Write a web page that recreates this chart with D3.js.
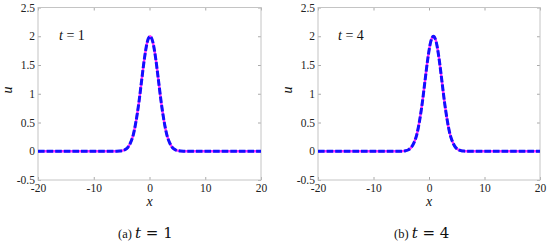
<!DOCTYPE html>
<html lang="en">
<head>
<meta charset="UTF-8">
<title>Soliton profiles</title>
<style>
body { margin: 0; background: #fff; }
svg { display: block; }
.tick text { font-family: "Liberation Serif", "Times New Roman", serif; font-size: 11.5px; fill: #222; }
.frame { fill: none; stroke: #c4c4c4; stroke-width: 1px; }
.exact { fill: none; stroke: #ff2cff; stroke-width: 2.4px; }
.numeric { fill: none; stroke: #1010ff; stroke-width: 3px; stroke-dasharray: 6.6 2; }
.lbl { font-family: "Liberation Serif", "Times New Roman", serif; font-style: italic; font-size: 14px; fill: #111; }
.cap { font-family: "Liberation Serif", "Times New Roman", serif; font-size: 12.5px; fill: #111; }
.capm { font-family: "DejaVu Serif", serif; font-size: 15px; fill: #111; }
</style>
</head>
<body>
<script src="https://cdnjs.cloudflare.com/ajax/libs/d3/7.8.5/d3.min.js"></script>
<script>
// values
var xTicks = [-20, -10, 0, 10, 20];
var yTicks = [-0.5, 0, 0.5, 1, 1.5, 2, 2.5];

var xT1 = [-20, -5.9, -5.4, -4.9, -4.4, -3.9, -3.4, -2.9, -2.4, -1.9, -1.4, -0.9, -0.4, 0.1,
           0.6, 1.1, 1.6, 2.1, 2.6, 3.1, 3.6, 4.1, 4.6, 5.1, 5.6, 6.1, 20];
var xT4 = [-20, -5.2, -4.7, -4.2, -3.7, -3.2, -2.7, -2.2, -1.7, -1.2, -0.7, -0.2, 0.3, 0.8,
           1.3, 1.8, 2.3, 2.8, 3.3, 3.8, 4.3, 4.8, 5.3, 5.8, 6.3, 6.8, 20];
var uT1 = [0, 0.001, 0.003, 0.010, 0.027, 0.066, 0.15, 0.29, 0.53, 0.85, 1.24, 1.62, 1.90, 2.00,
           1.90, 1.62, 1.24, 0.85, 0.53, 0.29, 0.15, 0.066, 0.027, 0.010, 0.003, 0.001, 0];
var uT4 = [0, 0.001, 0.003, 0.010, 0.027, 0.066, 0.15, 0.29, 0.53, 0.85, 1.24, 1.62, 1.90, 2.00,
           1.90, 1.62, 1.24, 0.85, 0.53, 0.29, 0.15, 0.066, 0.027, 0.010, 0.003, 0.001, 0];

var panels = [
  { left: 38, right: 261, xs: xT1, us: uT1, tval: "1", tag: "(a)", tx: 59, capx: 118, ulx: 12 },
  { left: 318, right: 540, xs: xT4, us: uT4, tval: "4", tag: "(b)", tx: 338, capx: 394, ulx: 292 }
];
var plotTop = 7.5, plotBottom = 180;
var serif = '"Liberation Serif", "Times New Roman", serif';

var svg = d3.select("body").append("svg")
  .attr("width", 550).attr("height", 245);

panels.forEach(function (p) {
  var x = d3.scaleLinear().domain([-20, 20]).range([p.left, p.right]);
  var y = d3.scaleLinear().domain([-0.5, 2.5]).range([plotBottom, plotTop]);
  var g = svg.append("g");

  // inward ticks on all four sides
  g.append("g").attr("transform", "translate(0," + plotBottom + ")")
    .call(d3.axisBottom(x).tickValues(xTicks).tickSize(-3).tickPadding(4).tickFormat(String));
  g.append("g").attr("transform", "translate(0," + plotTop + ")")
    .call(d3.axisTop(x).tickValues(xTicks).tickSize(-3).tickFormat(""));
  g.append("g").attr("transform", "translate(" + p.left + ",0)")
    .call(d3.axisLeft(y).tickValues(yTicks).tickSize(-3).tickPadding(3).tickFormat(String));
  g.append("g").attr("transform", "translate(" + p.right + ",0)")
    .call(d3.axisRight(y).tickValues(yTicks).tickSize(-3).tickFormat(""));
  g.selectAll("g").attr("font-family", serif).attr("font-size", 11.5);
  g.selectAll(".domain").remove();
  g.selectAll(".tick line").attr("stroke", "#aaa");

  g.append("rect").attr("class", "frame")
    .attr("x", p.left).attr("y", plotTop)
    .attr("width", p.right - p.left).attr("height", plotBottom - plotTop);

  var pts = p.xs.map(function (v, i) { return [v, p.us[i]]; });
  var line = d3.line()
    .x(function (d) { return x(d[0]); })
    .y(function (d) { return y(d[1]); })
    .curve(d3.curveMonotoneX);

  g.append("path").attr("class", "exact").attr("d", line(pts));
  g.append("path").attr("class", "numeric").attr("d", line(pts));

  // t annotation inside the plot
  var ann = g.append("text").attr("class", "lbl").attr("x", p.tx).attr("y", 40);
  ann.append("tspan").text("t");
  ann.append("tspan").style("font-style", "normal").text(" = " + p.tval);

  g.append("text").attr("class", "lbl")
    .attr("x", (p.left + p.right) / 2).attr("y", 206)
    .attr("text-anchor", "middle").text("x");

  g.append("text").attr("class", "lbl")
    .attr("transform", "translate(" + p.ulx + ",90) rotate(-90)")
    .attr("text-anchor", "middle").text("u");

  // caption
  var cap = g.append("text").attr("x", p.capx).attr("y", 238);
  cap.append("tspan").attr("class", "cap").text(p.tag + " ");
  cap.append("tspan").attr("class", "capm").style("font-style", "italic").text("t");
  cap.append("tspan").attr("class", "capm").text(" = " + p.tval);
});
</script>
</body>
</html>
